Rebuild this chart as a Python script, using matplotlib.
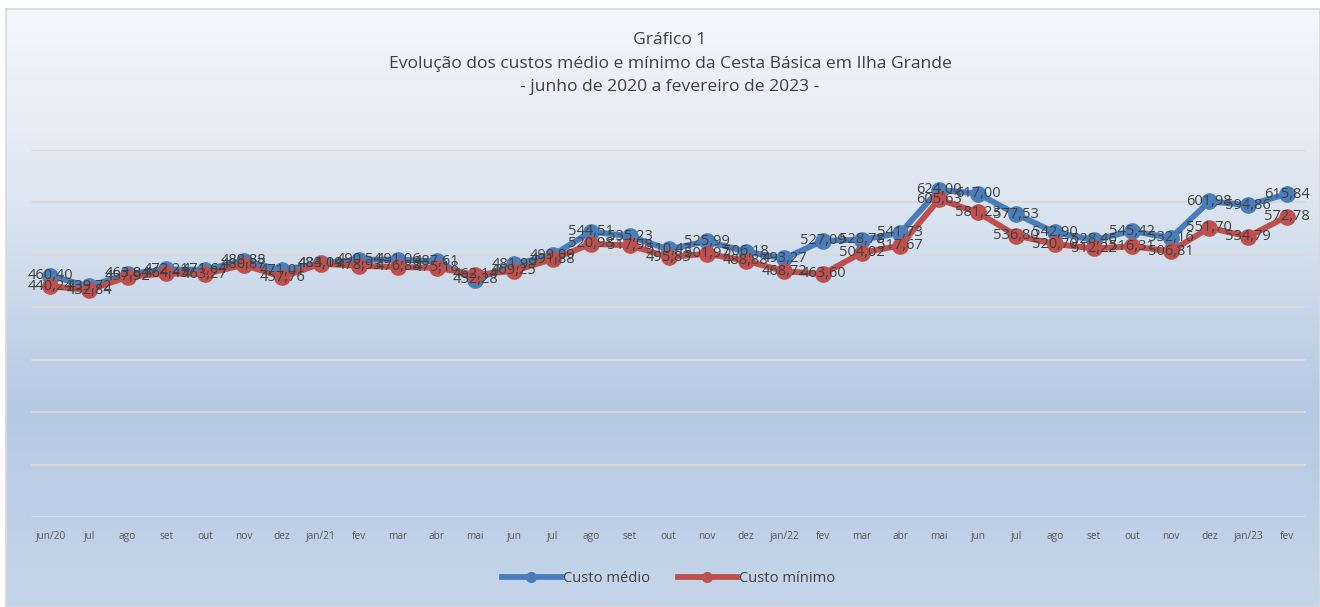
#!/usr/bin/env python3
"""
Evolução dos custos médio e mínimo da Cesta Básica em Ilha Grande.
"""

import numpy as np
import matplotlib
matplotlib.use("Agg")
import matplotlib.pyplot as plt
from matplotlib.colors import LinearSegmentedColormap

plt.rcParams["font.family"] = ["Open Sans", "DejaVu Sans"]

# Data
meses = [
    "jun/20", "jul", "ago", "set", "out", "nov", "dez",
    "jan/21", "fev", "mar", "abr", "mai", "jun", "jul", "ago", "set", "out", "nov", "dez",
    "jan/22", "fev", "mar", "abr", "mai", "jun", "jul", "ago", "set", "out", "nov", "dez",
    "jan/23", "fev",
]
custo_medio = [
    460.40, 439.72, 463.84, 472.21, 471.64, 488.88, 471.01,
    484.19, 490.54, 491.06, 487.61, 452.28, 481.99, 499.09, 544.51, 535.23, 510.43, 525.99, 506.18,
    493.27, 527.09, 528.78, 541.73, 624.00, 617.00, 577.53, 542.90, 528.46, 545.42, 532.16, 601.98,
    594.86, 615.84,
]
custo_minimo = [
    440.24, 432.84, 457.92, 464.45, 463.27, 480.87, 457.76,
    483.04, 478.93, 476.88, 475.18, 462.14, 469.25, 491.88, 520.98, 517.98, 495.83, 501.97, 488.88,
    468.72, 463.60, 504.02, 517.67, 605.63, 581.23, 536.80, 520.70, 512.22, 516.31, 506.81, 551.70,
    534.79, 572.78,
]

W, H = 1320, 607
fig = plt.figure(figsize=(W / 100, H / 100), dpi=100)
fig.patch.set_facecolor("white")

# Background panel with vertical gradient
bg = fig.add_axes([6 / W, 0, 1 - 6 / W, (H - 9) / H], zorder=0)
cmap = LinearSegmentedColormap.from_list("bg", ["#f4f7fb", "#dbe5f1", "#b5c9e2", "#c6d6ea"])
grad = np.linspace(0, 1, 256).reshape(-1, 1)
bg.imshow(grad, aspect="auto", cmap=cmap, extent=[0, 1, 0, 1], origin="upper")
bg.set_xticks([])
bg.set_yticks([])
for s in bg.spines.values():
    s.set_color("#d9d9d9")
    s.set_linewidth(1.2)

# Plot area
ax = fig.add_axes([31 / W, 90 / H, (1306 - 31) / W, (517 - 150) / H], zorder=1)
ax.patch.set_alpha(0)
x = np.arange(len(meses))

ax.set_ylim(0, 700)
ax.set_xlim(-0.5, len(meses) - 0.5)
ax.set_yticks(np.arange(0, 701, 100))
ax.yaxis.grid(True, color="#d9d9d9", linewidth=1.5)
ax.set_axisbelow(True)
ax.tick_params(axis="y", left=False, labelleft=False)
ax.tick_params(axis="x", length=0, pad=10, labelsize=7.3, labelcolor="#595959")
ax.set_xticks(x)
ax.set_xticklabels(meses)
for s in ax.spines.values():
    s.set_visible(False)

ax.plot(x, custo_medio, color="#4a7ebb", linewidth=4.2, marker="o",
        markersize=11, label="Custo médio", zorder=3)
ax.plot(x, custo_minimo, color="#c0504d", linewidth=4.2, marker="o",
        markersize=11, label="Custo mínimo", zorder=4)

# Data labels centered on points
for serie in (custo_medio, custo_minimo):
    for xi, v in zip(x, serie):
        ax.text(xi, v, f"{v:.2f}".replace(".", ","), ha="center", va="center",
                fontsize=10.5, color="#404040", zorder=5)

# Title
title_lines = [
    "Gráfico 1",
    "Evolução dos custos médio e mínimo da Cesta Básica em Ilha Grande",
    "- junho de 2020 a fevereiro de 2023 -",
]
for i, line in enumerate(title_lines):
    fig.text(670 / W, 1 - (40 + i * 23.5) / H, line, ha="center", va="center",
             fontsize=12.6, color="#404040", zorder=6)

leg = ax.legend(loc="center", bbox_to_anchor=(0.5, (517 - 579) / 367),
                ncol=2, frameon=False, fontsize=10.6, handlelength=4.0,
                columnspacing=1.9, handletextpad=0.15, labelcolor="#404040")
for h in leg.legend_handles:
    h.set_markersize(7)

fig.savefig("out.png", dpi=100)
